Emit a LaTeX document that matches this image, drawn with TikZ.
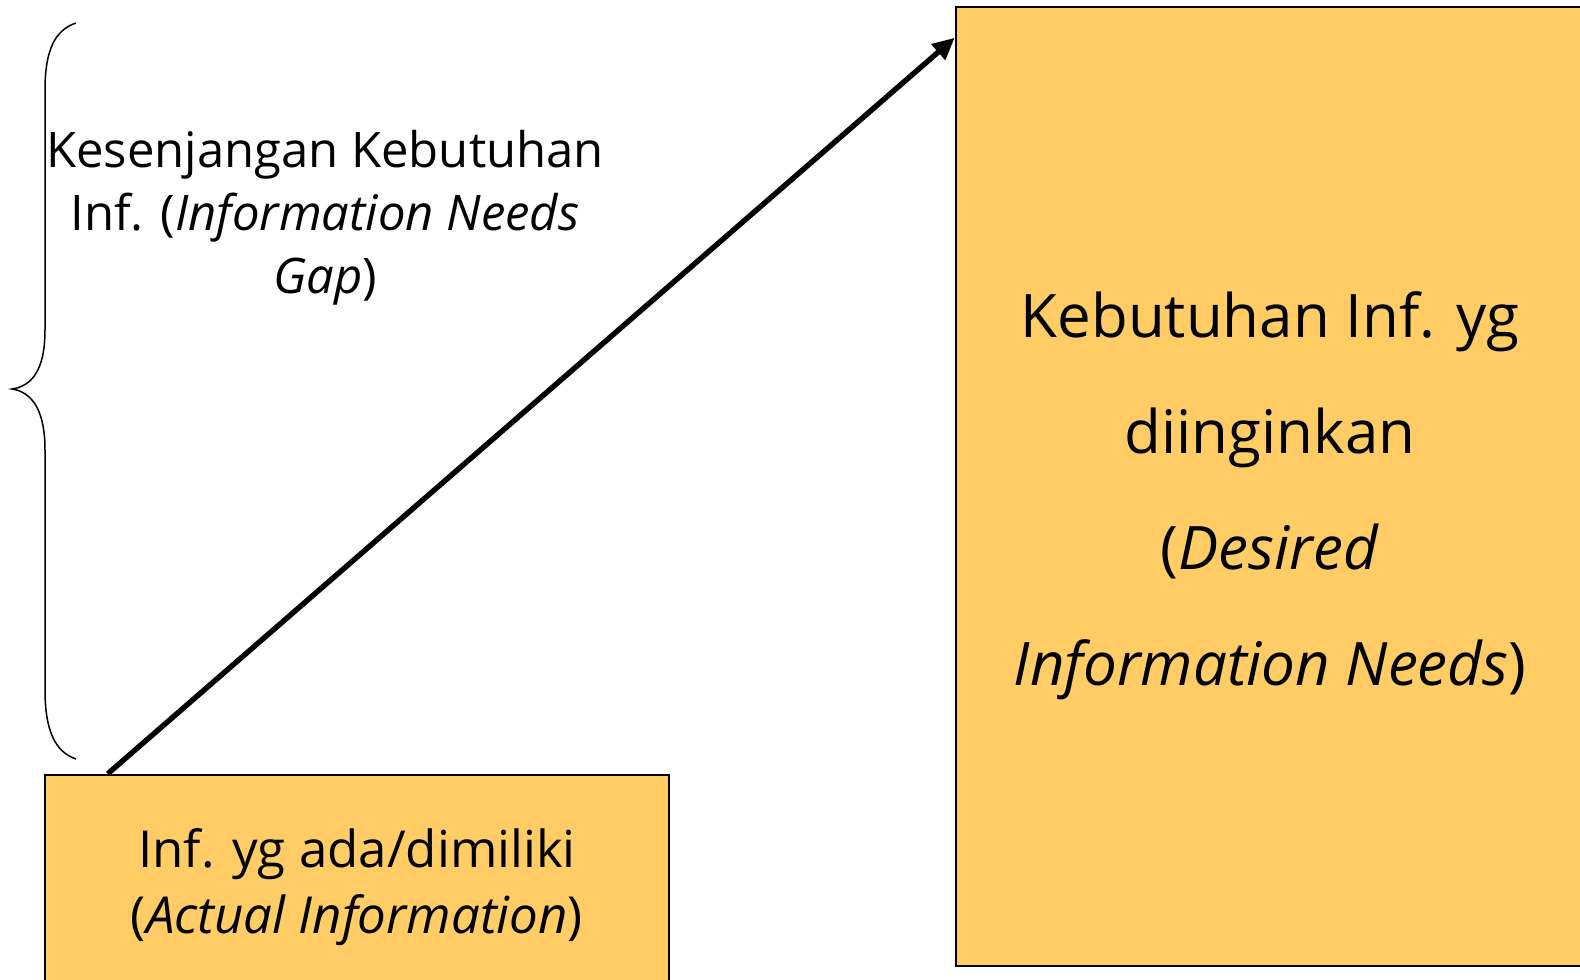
\documentclass[tikz,border=0pt]{standalone}
\usepackage{fontspec}
\setmainfont{Open Sans}
\usetikzlibrary{arrows.meta}
\definecolor{Gold}{HTML}{FFCC66}

\begin{document}
\begin{tikzpicture}[x=0.5pt,y=-0.5pt,
    infobox/.style={draw=black,line width=1.25pt,fill=Gold,inner sep=0pt,align=center},
    gaparrow/.style={-{Triangle[length=11pt,width=10pt]},line width=2.7pt},
    bracket/.style={line width=0.75pt}
  ]
    \useasboundingbox (0,0) rectangle (1580,980);
    \node[infobox,minimum width=312pt,minimum height=107.5pt,font=\fontsize{25.5}{33}\selectfont] (actual) at (357,882.5)
      {\rule{0pt}{24pt}Inf. yg ada/dimiliki\\(\textit{Actual Information})};
    \node[infobox,minimum width=314pt,minimum height=479.5pt,font=\fontsize{30}{58}\selectfont] (desired) at (1270,486.5)
      {\rule{0pt}{32pt}Kebutuhan Inf. yg\\diinginkan\\(\textit{Desired}\\\textit{Information Needs})};
    \node[align=center,font=\fontsize{24.5}{31.5}\selectfont] (gap) at (325,218)
      {Kesenjangan Kebutuhan\\Inf. (\textit{Information Needs}\\\textit{Gap})};
    % curly bracket on the left
    \draw[bracket] (76,23) .. controls (55,30) and (45,50) .. (45,90) -- (45,330)
      .. controls (45,370) and (32,386) .. (12,389) .. controls (32,392) and (45,410) .. (45,450)
      -- (45,690) .. controls (45,730) and (55,752) .. (76,759);
    \draw[gaparrow] ([xshift=32pt]actual.north west) -- ([yshift=-16pt]desired.north west);
\end{tikzpicture}
\end{document}
